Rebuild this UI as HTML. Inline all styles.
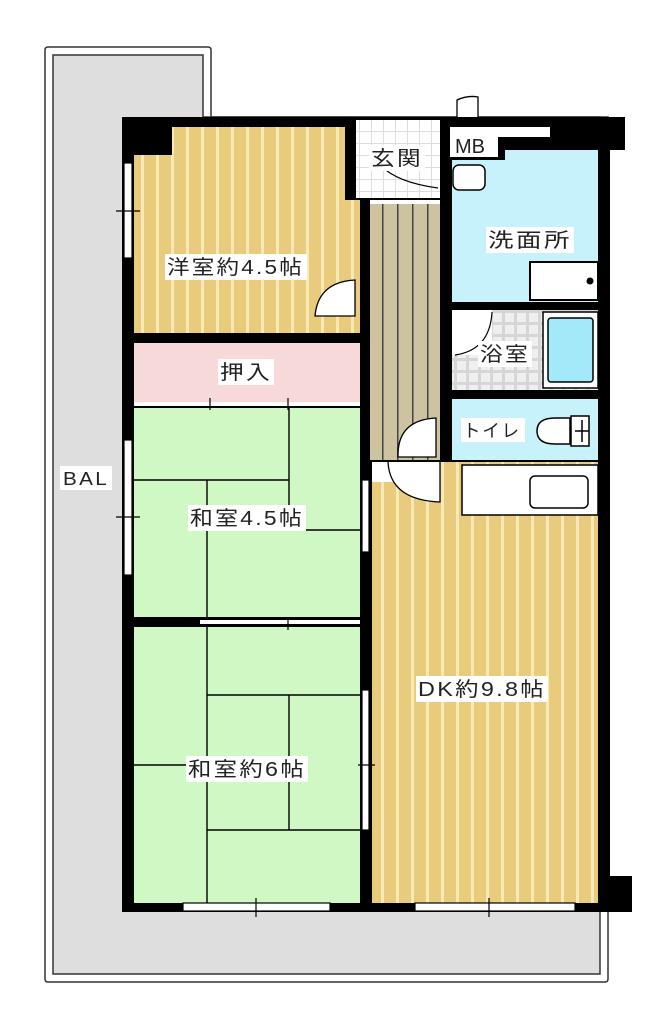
<!DOCTYPE html>
<html><head><meta charset="utf-8"><style>
html,body{margin:0;padding:0;background:#fff;}
svg{display:block;}
text{font-family:"Liberation Sans","Noto Sans CJK JP",sans-serif;font-size:20px;fill:#222;letter-spacing:2px;}
</style></head><body>
<svg width="668" height="1024" viewBox="0 0 668 1024" xmlns="http://www.w3.org/2000/svg">
<defs>
<pattern id="wood" width="15" height="20" patternUnits="userSpaceOnUse">
<rect width="15" height="20" fill="#e8cb7c"/><rect x="6" width="3" height="20" fill="#f9eab5"/>
</pattern>
<pattern id="cor" width="15" height="20" patternUnits="userSpaceOnUse">
<rect width="15" height="20" fill="#cdc3a0"/><rect x="7" width="1.5" height="20" fill="#444"/>
</pattern>
<pattern id="tile" width="12" height="12" patternUnits="userSpaceOnUse">
<rect width="12" height="12" fill="#d6d6d6"/><rect x="1" y="1" width="9" height="9" fill="#efefef"/>
</pattern>
<pattern id="tile2" width="12" height="12" patternUnits="userSpaceOnUse">
<rect width="12" height="12" fill="#fff"/><rect x="11" width="1" height="12" fill="#ddd"/><rect y="11" width="12" height="1" fill="#ddd"/>
</pattern>
</defs>
<path d="M45 50 Q45 47 48 47 L208 47 Q211 47 211 50 L211 117 L608 117 L608 979 Q608 982 605 982 L48 982 Q45 982 45 979 Z" fill="#fff" stroke="#333" stroke-width="1.5"/>
<path d="M53 55 L203 55 L203 117 L600 117 L600 974 L53 974 Z" fill="#dedede" stroke="#333" stroke-width="1.5"/>
<rect x="122" y="117" width="488" height="795" fill="#000"/>
<rect x="590" y="117" width="35" height="33" fill="#000"/>
<rect x="585" y="876" width="47" height="36" fill="#000"/>
<path d="M172 127 L345 127 L345 200 L360 200 L360 333 L134 333 L134 155 L172 155 Z" fill="url(#wood)"/>
<rect x="356" y="120" width="84" height="78" fill="url(#tile2)"/>
<rect x="370" y="200" width="70" height="260" fill="url(#cor)"/>
<rect x="370" y="200" width="70" height="4" fill="#fff"/>
<rect x="450" y="127" width="48" height="30" fill="#fff"/>
<rect x="498" y="127" width="52" height="10" fill="#fff"/>
<path d="M452 160 L505 160 L505 150 L598 150 L598 302 L452 302 Z" fill="#c8f2fb"/>
<rect x="530" y="262" width="68" height="38" fill="#fff" stroke="#000" stroke-width="2"/>
<circle cx="590" cy="281" r="3.5" fill="#000"/>
<rect x="453" y="165" width="32" height="25" rx="6" fill="#fff" stroke="#000" stroke-width="1.5"/>
<rect x="452" y="310" width="146" height="80" fill="url(#tile)"/>
<rect x="543" y="312" width="55" height="76" fill="#fff" stroke="#000" stroke-width="1.5"/>
<rect x="548" y="318" width="45" height="64" rx="3" fill="#a4e9f9" stroke="#000" stroke-width="1.5"/>
<rect x="452" y="310" width="40" height="45" fill="#fff"/>
<path d="M455 355 Q490 350 492 312" fill="none" stroke="#000" stroke-width="1.2"/>
<rect x="452" y="399" width="146" height="61" fill="#c8f2fb"/>
<path d="M570 418 L555 418 Q537 418 537 431 Q537 444 555 444 L570 444 Z" fill="#fff" stroke="#000" stroke-width="1.5"/>
<rect x="571" y="416" width="18" height="30" fill="#fff" stroke="#000" stroke-width="1.5"/>
<line x1="575" y1="431" x2="589" y2="431" stroke="#000" stroke-width="1.5"/><line x1="582" y1="420" x2="582" y2="442" stroke="#000" stroke-width="1.5"/>
<rect x="134" y="343" width="226" height="61" fill="#f8d9d9"/>
<rect x="134" y="402" width="226" height="4" fill="#fff"/>
<rect x="134" y="408" width="226" height="209" fill="#cff8c4"/>
<g stroke="#000" stroke-width="1.4" fill="none">
<line x1="289" y1="408" x2="289" y2="530"/>
<line x1="134" y1="480" x2="289" y2="480"/>
<line x1="207" y1="480" x2="207" y2="617"/>
<line x1="207" y1="530" x2="360" y2="530"/>
</g>
<rect x="134" y="627" width="226" height="276" fill="#cff8c4"/>
<rect x="200" y="620" width="160" height="4" fill="#fff"/>
<g stroke="#000" stroke-width="1.4" fill="none">
<line x1="207" y1="627" x2="207" y2="903"/>
<line x1="207" y1="695" x2="360" y2="695"/>
<line x1="289" y1="695" x2="289" y2="830"/>
<line x1="134" y1="765" x2="207" y2="765"/>
<line x1="207" y1="830" x2="360" y2="830"/>
</g>
<rect x="372" y="462" width="226" height="441" fill="url(#wood)"/>
<rect x="462" y="465" width="136" height="50" fill="#fff" stroke="#000" stroke-width="1.5"/>
<rect x="530" y="476" width="58" height="32" rx="5" fill="#fff" stroke="#000" stroke-width="1.5"/>
<rect x="372" y="462" width="68" height="20" fill="#fff"/>
<path d="M440 462 L440 502 Q390 500 388 462" fill="#fff" stroke="#000" stroke-width="1.3"/>
<path d="M436 457 L398 457 Q397 420 436 418 Z" fill="#fff" stroke="#000" stroke-width="1.3"/>
<path d="M355 316 L315 316 Q318 282 355 280 Z" fill="#fff" stroke="#000" stroke-width="1.3"/>
<path d="M438 188 Q380 180 372 150" fill="none" stroke="#000" stroke-width="1.2"/>
<path d="M457 117 L457 100 Q468 95 478 97 L478 117" fill="#fff" stroke="#000" stroke-width="1.3"/>
<g fill="#fff" stroke="#000" stroke-width="1.2">
<rect x="124" y="163" width="8" height="95"/>
<rect x="124" y="440" width="8" height="135"/>
<rect x="362" y="480" width="7" height="72"/>
<rect x="362" y="690" width="7" height="140"/>
<rect x="183" y="903" width="147" height="8"/>
<rect x="415" y="903" width="160" height="8"/>
</g>
<g stroke="#000" stroke-width="1.2">
<line x1="116" y1="211" x2="140" y2="211"/>
<line x1="116" y1="517" x2="140" y2="517"/>
<line x1="358" y1="765" x2="375" y2="765"/>
<line x1="256" y1="898" x2="256" y2="917"/>
<line x1="489" y1="898" x2="489" y2="917"/>
<line x1="210" y1="398" x2="210" y2="410"/>
<line x1="288" y1="398" x2="288" y2="410"/>
<line x1="288" y1="617" x2="288" y2="630"/>
</g>
<rect x="165" y="254" width="142" height="26" fill="#fff"/>
<text x="167" y="274" textLength="137" lengthAdjust="spacingAndGlyphs">洋室約4.5帖</text>
<rect x="369" y="145" width="56" height="26" fill="#fff"/>
<text x="371" y="165" textLength="52" lengthAdjust="spacingAndGlyphs">玄関</text>
<text x="455" y="153" style="letter-spacing:0">MB</text>
<rect x="486" y="227" width="88" height="26" fill="#fff"/>
<text x="488" y="247" textLength="84" lengthAdjust="spacingAndGlyphs">洗面所</text>
<rect x="478" y="341" width="54" height="26" fill="#fff"/>
<text x="480" y="361" textLength="50" lengthAdjust="spacingAndGlyphs">浴室</text>
<rect x="461" y="418" width="64" height="24" fill="#fff"/>
<text x="463" y="437" textLength="58" lengthAdjust="spacingAndGlyphs" style="font-size:18px">トイレ</text>
<rect x="218" y="359" width="56" height="26" fill="#fff"/>
<text x="220" y="379" textLength="52" lengthAdjust="spacingAndGlyphs">押入</text>
<rect x="188" y="505" width="118" height="26" fill="#fff"/>
<text x="190" y="525" textLength="114" lengthAdjust="spacingAndGlyphs">和室4.5帖</text>
<rect x="186" y="756" width="122" height="26" fill="#fff"/>
<text x="188" y="776" textLength="118" lengthAdjust="spacingAndGlyphs">和室約6帖</text>
<rect x="416" y="676" width="132" height="26" fill="#fff"/>
<text x="418" y="696" textLength="128" lengthAdjust="spacingAndGlyphs">DK約9.8帖</text>
<rect x="60" y="466" width="52" height="24" fill="#fff"/>
<text x="63" y="485" textLength="46" lengthAdjust="spacingAndGlyphs" style="font-size:18px">BAL</text>
</svg>
</body></html>
